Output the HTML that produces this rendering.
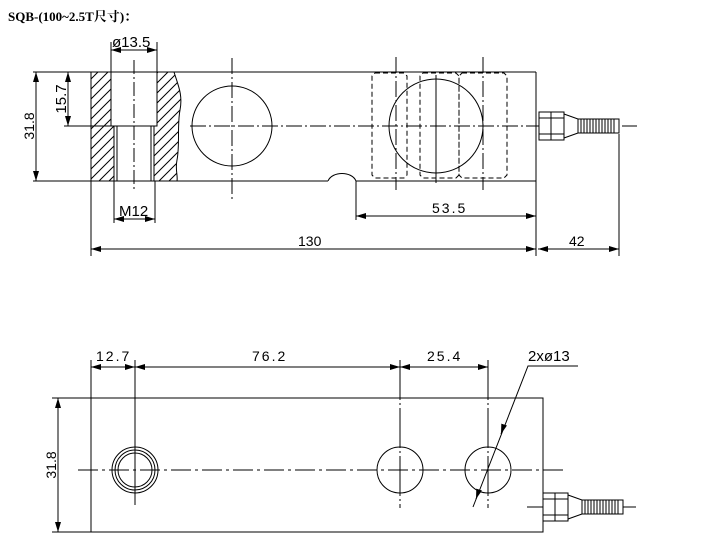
<!DOCTYPE html>
<html><head><meta charset="utf-8"><style>
html,body{margin:0;padding:0;background:#fff;width:727px;height:547px;overflow:hidden}
svg{display:block}
text{font-family:"Liberation Sans","Noto Sans CJK SC",sans-serif;font-size:14px;fill:#000}
</style></head><body>
<svg width="727" height="547" viewBox="0 0 727 547" xmlns="http://www.w3.org/2000/svg">
<defs>
<marker id="a" viewBox="0 0 10 6" refX="10" refY="3" markerWidth="10" markerHeight="6" orient="auto-start-reverse" markerUnits="userSpaceOnUse"><path d="M0,0L10,3L0,6z" fill="#000"/></marker>
<pattern id="h" width="10" height="10" patternUnits="userSpaceOnUse"><path d="M-2,12L12,-2M-2,2L2,-2M8,12L12,8" stroke="#000" stroke-width="1"/></pattern>
<g id="conn" fill="#fff" stroke="#000" stroke-width="1">
<rect x="0" y="-14" width="12" height="28"/><line x1="0" y1="-8" x2="12" y2="-8"/><line x1="0" y1="8" x2="12" y2="8"/>
<rect x="12" y="-14" width="13" height="28"/><line x1="12" y1="-8" x2="25" y2="-8"/><line x1="12" y1="8" x2="25" y2="8"/>
<path d="M25,-12L39,-7L39,7L25,12z"/>
<rect x="39" y="-7" width="41" height="14"/>
<path d="M42,-7v14M45,-7v14M48,-7v14M51,-7v14M54,-7v14M57,-7v14M60,-7v14M63,-7v14M66,-7v14M69,-7v14M72,-7v14M75,-7v14"/>
</g>
</defs>
<text x="8" y="21" style="font-family:'Liberation Serif','Noto Serif CJK SC',serif;font-weight:bold;font-size:13px">SQB-(100~2.5T尺寸)：</text>
<g stroke="#000" stroke-width="1" fill="none">
<line x1="33" y1="72" x2="536" y2="72"/>
<line x1="33" y1="181" x2="328" y2="181"/>
<line x1="356" y1="181" x2="536" y2="181"/>
<path d="M328,181C332,171 352,171 356,181"/>
<line x1="536" y1="72" x2="536" y2="256"/>
<line x1="91" y1="72" x2="91" y2="256"/>
<path d="M91,72H111V126H114V181H91z" fill="url(#h)"/>
<path d="M157,72H174C178,85 183,95 180,110C177,125 180,145 177,160C175,170 178,175 177,181H154V126H157z" fill="url(#h)"/>
<rect x="111" y="72" width="46" height="54" fill="#fff"/>
<line x1="111" y1="42" x2="111" y2="72"/><line x1="157" y1="42" x2="157" y2="72"/>
<line x1="64" y1="126" x2="157" y2="126"/>
<rect x="114" y="126" width="40" height="55" fill="#fff"/>
<line x1="117" y1="126" x2="117" y2="181"/><line x1="151" y1="126" x2="151" y2="181"/>
<line x1="114" y1="181" x2="114" y2="223"/><line x1="155" y1="181" x2="155" y2="223"/>
<line x1="134" y1="60" x2="134" y2="192" stroke-dasharray="14,3,2,3"/>
<circle cx="232" cy="126" r="40"/>
<line x1="232" y1="58" x2="232" y2="200" stroke-dasharray="16,3,2,3"/>
<line x1="190" y1="126" x2="637" y2="126" stroke-dasharray="16,3,2,3"/>
<path d="M375,73H404L407,76V175L404,178H375L372,175V76z" stroke-dasharray="5,3"/>
<path d="M423,73H456L459,76V175L456,178H423L420,175V76z" stroke-dasharray="5,3"/>
<path d="M462,73H504L507,76V175L504,178H462L459,175V76z" stroke-dasharray="5,3"/>
<circle cx="436" cy="126" r="47"/>
<line x1="396" y1="57" x2="396" y2="190" stroke-dasharray="16,3,2,3"/>
<line x1="436" y1="75" x2="436" y2="183"/>
<line x1="483" y1="57" x2="483" y2="190" stroke-dasharray="16,3,2,3"/>
<line x1="356" y1="181" x2="356" y2="220"/>
<line x1="619" y1="134" x2="619" y2="256"/>
<line x1="111" y1="50" x2="157" y2="50" marker-start="url(#a)" marker-end="url(#a)"/>
<line x1="36" y1="72" x2="36" y2="181" marker-start="url(#a)" marker-end="url(#a)"/>
<line x1="68" y1="72" x2="68" y2="126" marker-start="url(#a)" marker-end="url(#a)"/>
<line x1="114" y1="219" x2="155" y2="219" marker-start="url(#a)" marker-end="url(#a)"/>
<line x1="356" y1="216" x2="536" y2="216" marker-start="url(#a)" marker-end="url(#a)"/>
<line x1="91" y1="249" x2="536" y2="249" marker-start="url(#a)" marker-end="url(#a)"/>
<line x1="538" y1="249" x2="619" y2="249" marker-start="url(#a)" marker-end="url(#a)"/>
<rect x="91" y="398" width="452" height="134"/>
<line x1="52" y1="398" x2="91" y2="398"/><line x1="52" y1="532" x2="91" y2="532"/>
<line x1="91" y1="360" x2="91" y2="398"/>
<line x1="78" y1="470" x2="566" y2="470" stroke-dasharray="20,4,3,4"/>
<circle cx="135" cy="470" r="23"/><circle cx="135" cy="470" r="20"/><circle cx="135" cy="470" r="17"/>
<line x1="135" y1="360" x2="135" y2="505"/>
<circle cx="400" cy="470" r="23"/>
<line x1="400" y1="360" x2="400" y2="508" stroke-dasharray="40,3,2,3"/>
<circle cx="488" cy="470" r="23"/>
<line x1="488" y1="360" x2="488" y2="508" stroke-dasharray="40,3,2,3"/>
<line x1="91" y1="367" x2="135" y2="367" marker-start="url(#a)" marker-end="url(#a)"/>
<line x1="135" y1="367" x2="400" y2="367" marker-start="url(#a)" marker-end="url(#a)"/>
<line x1="400" y1="367" x2="488" y2="367" marker-start="url(#a)" marker-end="url(#a)"/>
<line x1="58" y1="398" x2="58" y2="532" marker-start="url(#a)" marker-end="url(#a)"/>
<polyline points="578,366 528,366 473,507"/>
<line x1="502" y1="431" x2="501" y2="434" marker-end="url(#a)"/>
<line x1="477" y1="496" x2="476" y2="499" marker-end="url(#a)"/>
<line x1="527" y1="507" x2="636" y2="507" stroke-dasharray="16,3,2,3"/>
</g>
<use href="#conn" x="539" y="126"/>
<use href="#conn" x="543" y="507"/>
<text x="112" y="47" style="font-size:15px">ø13.5</text>
<text x="119" y="216" style="font-size:15px">M12</text>
<text x="432" y="213" letter-spacing="2">53.5</text>
<text x="298" y="246">130</text>
<text x="569" y="246">42</text>
<text transform="translate(34,126) rotate(-90)" text-anchor="middle">31.8</text>
<text transform="translate(66,99) rotate(-90)" text-anchor="middle" style="font-size:15px">15.7</text>
<text x="96" y="361" letter-spacing="2">12.7</text>
<text x="252" y="361" letter-spacing="2">76.2</text>
<text x="427" y="361" letter-spacing="2">25.4</text>
<text x="528" y="361" style="font-size:15px">2xø13</text>
<text transform="translate(56,465) rotate(-90)" text-anchor="middle">31.8</text>
</svg>
</body></html>
